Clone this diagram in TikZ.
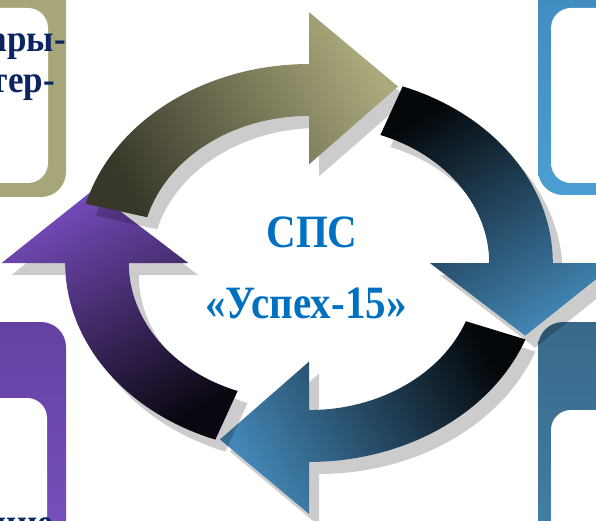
\documentclass[tikz,border=0pt]{standalone}
\usepackage{fontspec}
\setmainfont{Liberation Serif}
\usepackage{graphicx}
\usepackage{xcolor}
\usepackage{tikz}
\definecolor{spsblue}{HTML}{0070C0}
\definecolor{spsnavy}{HTML}{0B2463}
\definecolor{olivebox}{HTML}{A7A67B}
\definecolor{olivedark}{HTML}{38382A}
\definecolor{olivelite}{HTML}{ABAA7C}
\definecolor{skytop}{HTML}{3D85B9}
\definecolor{skybot}{HTML}{4C9ED2}
\definecolor{steeltop}{HTML}{39698A}
\definecolor{steelbot}{HTML}{4585AC}
\definecolor{violettop}{HTML}{6441A2}
\definecolor{violetbot}{HTML}{7D54C4}
\definecolor{bluedark}{HTML}{04070A}
\definecolor{bluelite}{HTML}{4386B5}
\definecolor{violetdark}{HTML}{0A0710}
\definecolor{violetlite}{HTML}{744AB8}
\tikzset{
  framebox/.style={rounded corners=25pt},
  hole/.style={fill=white, rounded corners=20pt},
  shadowfill/.style={fill=black, fill opacity=0.2},
  ring/.style={shift={(309,257)}, xscale=212, yscale=173},
  ringshadow/.style={shift={(319,245)}, xscale=212, yscale=173},
  bigtext/.style={font=\fontsize{41}{41}\selectfont\bfseries, text=spsblue,
                  anchor=base, inner sep=0pt},
  boxtext/.style={font=\fontsize{35}{35}\selectfont\bfseries, text=spsnavy,
                  anchor=base east, inner sep=0pt},
}
% one bent arrow of the cycle, tail on the left, head on top
\newcommand{\cyclearrow}[1]{([shift={(0,0.06)}]#1:1.09)
  arc[start angle=#1, end angle=90, radius=1.09] -- (0,1.45) -- (0.42,1.02)
  -- (0,0.57) -- (0,0.85) arc[start angle=90, end angle=#1, radius=0.79] -- cycle}

\begin{document}
\begin{tikzpicture}[x=1pt, y=1pt]
  \useasboundingbox (0,0) rectangle (596,520);
  \clip (0,0) rectangle (596,520);

  % corner boxes
  \fill[framebox, olivebox] (-60,323) rectangle (66,600);
  \fill[hole] (-60,337) rectangle (48,512);
  \shade[framebox, top color=skytop, bottom color=skybot] (538,325) rectangle (660,600);
  \fill[hole] (551,337) rectangle (660,512);
  \shade[framebox, top color=steeltop, bottom color=steelbot] (538,-80) rectangle (660,198);
  \fill[hole] (551,-80) rectangle (660,110);
  \shade[framebox, top color=violettop, bottom color=violetbot] (-60,-80) rectangle (66,198);
  \fill[hole] (-60,-80) rectangle (47,122);

  % the four arrows
  \foreach \rot/\tail/\lite/\dark/\sang in {-90/159.5/bluelite/bluedark/-150,
      180/159.5/bluelite/bluedark/120, 90/159.5/violetlite/violetdark/30,
      0/165/olivelite/olivedark/-60} {
    \begin{scope}[ringshadow, rotate=\rot]
      \fill[shadowfill] \cyclearrow{\tail};
    \end{scope}
    \begin{scope}[ring, rotate=\rot]
      \shade[top color=\lite, bottom color=\dark, shading angle=\sang] \cyclearrow{\tail};
    \end{scope}
  }

  \node[bigtext] (spstitle) at (312,273) {\scalebox{1}[1.13]{СПС}};
  \node[bigtext] (spsname) at (306,202) {\scalebox{1}[1.13]{«Успех-15»}};

  \node[boxtext] (oliveone) at (66,468) {\scalebox{1}[1.08]{ары-}};
  \node[boxtext] (olivetwo) at (55,427) {\scalebox{1}[1.08]{тер-}};
  \node[boxtext] (violetone) at (53,-15) {\scalebox{1}[1.08]{ние}};
\end{tikzpicture}
\end{document}
